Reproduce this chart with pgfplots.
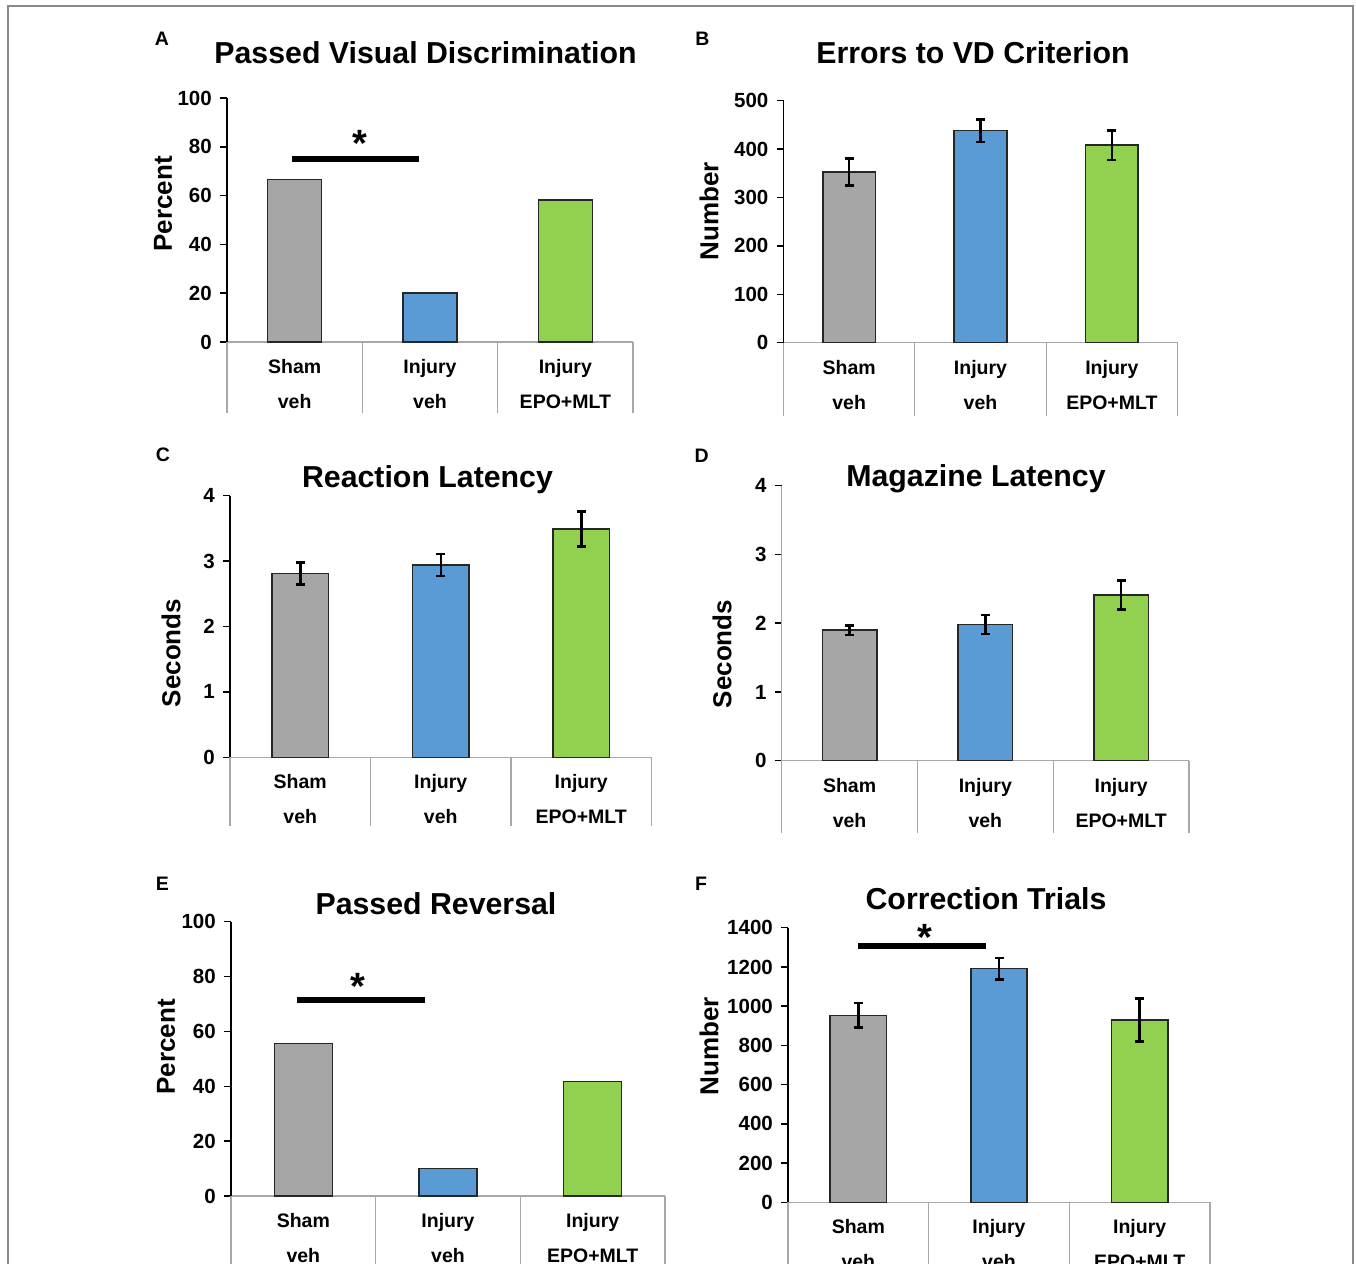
\documentclass[border=0pt]{standalone}
\usepackage{pgfplots}
\pgfplotsset{compat=1.18}
\usepackage{fontspec}
\setmainfont{Liberation Sans}
\definecolor{barGray}{HTML}{A6A6A6}
\definecolor{barBlue}{HTML}{5B9BD5}
\definecolor{barGreen}{HTML}{92D050}
\definecolor{barEdge}{HTML}{262626}
\definecolor{axGray}{HTML}{A8A8A8}
\definecolor{frameGray}{HTML}{8A8A8A}
\newcommand\tickfont{\bfseries\fontsize{20.5}{20.5}\selectfont}
\newcommand\catfont{\bfseries\fontsize{19.5}{35}\selectfont}
\newcommand\titlefont{\bfseries\fontsize{30.3}{34}\selectfont}
\newcommand\labfont{\bfseries\fontsize{26}{30}\selectfont}
\newcommand\letfont{\bfseries\fontsize{19.5}{22}\selectfont}
\newcommand\starfont{\bfseries\fontsize{38}{40}\selectfont}
\tikzset{
  catline/.style={draw=axGray, line width=1.3pt},
  sig/.style={line width=6pt, black},
}
\pgfplotsset{
  panel/.style={
    scale only axis, anchor=south west, clip=false,
    xmin=-0.5, xmax=2.5, ymin=0,
    axis x line*=bottom, axis y line*=left,
    x axis line style={draw=axGray, line width=1.3pt, -},
    y axis line style={draw=black, line width=1.5pt, -},
    xtick={0,1,2},
    xticklabels={Sham\\veh, Injury\\veh, Injury\\EPO+MLT},
    xtick style={draw=none},
    ytick style={draw=black, line width=1.5pt},
    tick align=outside, major tick length=7pt,
    yticklabel style={font=\tickfont, inner sep=0pt, xshift=-8pt},
    xticklabel style={font=\catfont, align=center, inner sep=0pt, anchor=north, yshift=-10pt},
    /pgf/number format/assume math mode=true,
    /pgf/number format/1000 sep={},
  },
  bg/.style={ybar, bar width=0.4, fill=barGray, draw=barEdge, line width=1.5pt},
  bb/.style={ybar, bar width=0.4, fill=barBlue, draw=barEdge, line width=1.5pt},
  bgr/.style={ybar, bar width=0.4, fill=barGreen, draw=barEdge, line width=1.5pt},
  eb/.style={error bars/.cd, y dir=both, y explicit,
    error bar style={line width=2.5pt, black},
    error mark options={rotate=90, line width=2.5pt, black, mark size=4.5pt}},
}
\begin{document}
\begin{tikzpicture}
\useasboundingbox (0,0) rectangle (1356pt,-1263pt);
\clip (0,0) rectangle (1356pt,-1263pt);
\draw[frameGray, line width=1.6pt] (8pt,-1300pt) -- (8pt,-6pt) -- (1353pt,-6pt) -- (1353pt,-1300pt);

% ---------------- A
\begin{axis}[panel, at={(227pt,-342pt)}, width=406pt, height=244pt, ymax=100, ytick={0,20,...,100}]
\addplot[bg] coordinates {(0,66.7)};
\addplot[bb] coordinates {(1,20)};
\addplot[bgr] coordinates {(2,58.3)};
\pgfplotsinvokeforeach{-0.5,0.5,1.5,2.5}{\draw[catline] (axis cs:#1,0) -- ++(0pt,-71pt);}
\draw[sig] (axis cs:-0.017,74.9) -- (axis cs:0.92,74.9);
\node[font=\starfont, anchor=north, inner sep=0pt] at (axis cs:0.483,86.9) {*};
\end{axis}
\node[font=\titlefont, anchor=base] at (425.5pt,-63.3pt) {Passed Visual Discrimination};
\node[font=\letfont, anchor=base] at (162pt,-46pt) {A};
\node[font=\labfont, rotate=90] at (163pt,-204pt) {Percent};

% ---------------- B
\begin{axis}[panel, at={(783.5pt,-342.7pt)}, width=394pt, height=242pt, ymax=500, ytick={0,100,...,500}]
\addplot[bg, eb] coordinates {(0,353) +- (0,28)};
\addplot[bb, eb] coordinates {(1,438) +- (0,23)};
\addplot[bgr, eb] coordinates {(2,408) +- (0,30)};
\pgfplotsinvokeforeach{-0.5,0.5,1.5,2.5}{\draw[catline] (axis cs:#1,0) -- ++(0pt,-73pt);}
\end{axis}
\node[font=\titlefont, anchor=base] at (973pt,-63.3pt) {Errors to VD Criterion};
\node[font=\letfont, anchor=base] at (702.5pt,-46pt) {B};
\node[font=\labfont, rotate=90] at (709pt,-211pt) {Number};

% ---------------- C
\begin{axis}[panel, at={(230pt,-757.3pt)}, width=421.5pt, height=261.6pt, ymax=4, ytick={0,1,...,4}]
\addplot[bg, eb] coordinates {(0,2.81) +- (0,0.17)};
\addplot[bb, eb] coordinates {(1,2.94) +- (0,0.17)};
\addplot[bgr, eb] coordinates {(2,3.49) +- (0,0.27)};
\pgfplotsinvokeforeach{-0.5,0.5,1.5,2.5}{\draw[catline] (axis cs:#1,0) -- ++(0pt,-69pt);}
\end{axis}
\node[font=\titlefont, anchor=base] at (427.5pt,-487.7pt) {Reaction Latency};
\node[font=\letfont, anchor=base] at (163pt,-461.7pt) {C};
\node[font=\labfont, rotate=90] at (171pt,-653pt) {Seconds};

% ---------------- D
\begin{axis}[panel, at={(781.7pt,-760.7pt)}, width=407.3pt, height=275pt, ymax=4, ytick={0,1,...,4},
  y axis line style={draw=axGray, line width=1.3pt, -}]
\addplot[bg, eb] coordinates {(0,1.90) +- (0,0.07)};
\addplot[bb, eb] coordinates {(1,1.98) +- (0,0.14)};
\addplot[bgr, eb] coordinates {(2,2.41) +- (0,0.21)};
\pgfplotsinvokeforeach{-0.5,0.5,1.5,2.5}{\draw[catline] (axis cs:#1,0) -- ++(0pt,-72pt);}
\end{axis}
\node[font=\titlefont, anchor=base] at (976pt,-486.7pt) {Magazine Latency};
\node[font=\letfont, anchor=base] at (701.7pt,-462.3pt) {D};
\node[font=\labfont, rotate=90] at (722pt,-654pt) {Seconds};

% ---------------- E
\begin{axis}[panel, at={(231pt,-1196pt)}, width=434pt, height=274.3pt, ymax=100, ytick={0,20,...,100}]
\addplot[bg] coordinates {(0,55.6)};
\addplot[bb] coordinates {(1,10)};
\addplot[bgr] coordinates {(2,41.7)};
\pgfplotsinvokeforeach{-0.5,0.5,1.5,2.5}{\draw[catline] (axis cs:#1,0) -- ++(0pt,-90pt);}
\draw[sig] (axis cs:-0.044,71.5) -- (axis cs:0.84,71.5);
\node[font=\starfont, anchor=north, inner sep=0pt] at (axis cs:0.38,81.4) {*};
\end{axis}
\node[font=\titlefont, anchor=base] at (436pt,-914pt) {Passed Reversal};
\node[font=\letfont, anchor=base] at (162.5pt,-890.7pt) {E};
\node[font=\labfont, rotate=90] at (166pt,-1046.7pt) {Percent};

% ---------------- F
\begin{axis}[panel, at={(788pt,-1202.3pt)}, width=422pt, height=274.6pt, ymax=1400, ytick={0,200,...,1400}]
\addplot[bg, eb] coordinates {(0,953) +- (0,62)};
\addplot[bb, eb] coordinates {(1,1191) +- (0,54)};
\addplot[bgr, eb] coordinates {(2,929) +- (0,110)};
\pgfplotsinvokeforeach{-0.5,0.5,1.5,2.5}{\draw[catline] (axis cs:#1,0) -- ++(0pt,-90pt);}
\draw[sig] (axis cs:0.0,1308) -- (axis cs:0.91,1308);
\node[font=\starfont, anchor=north, inner sep=0pt] at (axis cs:0.474,1417) {*};
\end{axis}
\node[font=\titlefont, anchor=base] at (986pt,-909.3pt) {Correction Trials};
\node[font=\letfont, anchor=base] at (701pt,-890.7pt) {F};
\node[font=\labfont, rotate=90] at (709pt,-1046pt) {Number};
\end{tikzpicture}
\end{document}
